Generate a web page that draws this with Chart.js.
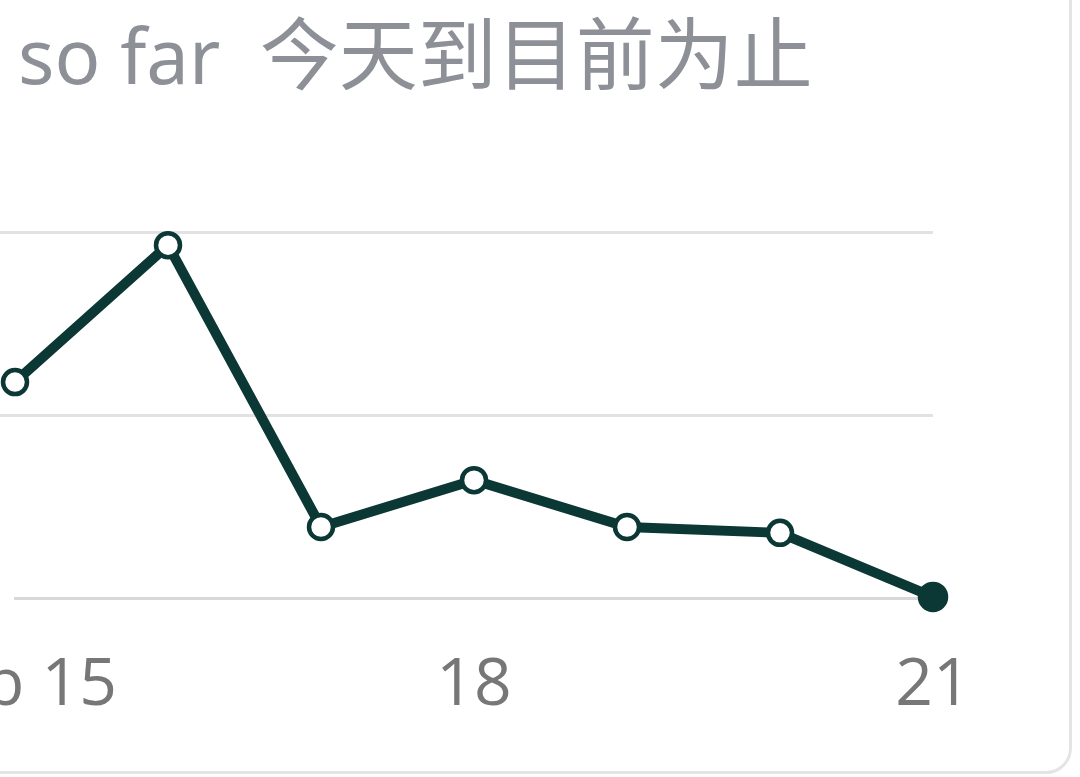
<!DOCTYPE html>
<html>
<head>
<meta charset="utf-8">
<script src="https://cdn.jsdelivr.net/npm/chart.js@4.4.1/dist/chart.umd.min.js"></script>
<style>
  html, body { margin: 0; padding: 0; background: #ffffff; }
  body { width: 1080px; height: 777px; overflow: hidden; position: relative; }
  #card {
    position: absolute; left: -100px; top: -100px; width: 1172px; height: 874px;
    border: 3px solid #e4e4e4; border-radius: 26px; background: #ffffff; box-sizing: border-box;
  }
  #title {
    position: absolute; left: 18px; top: 16px; white-space: pre;
    font-family: "Noto Sans", "Noto Sans CJK SC", sans-serif; font-size: 76px; line-height: 76px;
    color: #8d9197;
  }
  #title .zh { font-size: 79px; }
  #wrap { position: absolute; left: -200px; top: 0; width: 1280px; height: 777px; }
</style>
</head>
<body>
<div id="card"></div>
<div id="title">so far  <span class="zh">今天到目前为止</span></div>
<div id="wrap"><canvas id="c" width="1280" height="777"></canvas></div>
<script>
const categories = ['Feb 15', 'Feb 16', 'Feb 17', 'Feb 18', 'Feb 19', 'Feb 20', 'Feb 21'];
const tickLabels = ['Feb 15', '', '', '18', '', '', '21'];
const values = [59, 96.4, 19.4, 32.2, 19.4, 17.8, 0.3];
const yTicks = [0, 50, 100];

const lineColor = '#0b3734';
const lastIdx = values.length - 1;

new Chart(document.getElementById('c'), {
  type: 'line',
  data: {
    labels: categories,
    datasets: [{
      data: values,
      borderColor: lineColor,
      borderWidth: 10,
      tension: 0,
      clip: false,
      pointRadius: (ctx) => ctx.dataIndex === lastIdx ? 13 : 12,
      pointBorderWidth: 4.5,
      pointBorderColor: lineColor,
      pointBackgroundColor: (ctx) => ctx.dataIndex === lastIdx ? lineColor : '#ffffff'
    }]
  },
  options: {
    responsive: false,
    animation: false,
    devicePixelRatio: 1,
    layout: { autoPadding: false, padding: { left: 200, right: 147, top: 232, bottom: 3 } },
    plugins: { legend: { display: false }, tooltip: { enabled: false }, title: { display: false } },
    scales: {
      x: {
        grid: { display: false, drawTicks: false },
        border: { display: true, color: '#d8d8d8', width: 3 },
        ticks: {
          autoSkip: false, maxRotation: 0, minRotation: 0,
          padding: 55,
          color: '#777777',
          font: { family: "'Open Sans', 'Noto Sans', sans-serif", size: 66, lineHeight: 1 },
          callback: (v, i) => tickLabels[i]
        }
      },
      y: {
        min: yTicks[0], max: yTicks[yTicks.length - 1],
        afterBuildTicks: (axis) => { axis.ticks = yTicks.map(v => ({ value: v })); },
        border: { display: false },
        grid: {
          drawTicks: true, tickLength: 15, lineWidth: 3,
          color: (ctx) => (ctx.tick && ctx.tick.value === 0) ? 'rgba(0,0,0,0)' : '#e2e2e2'
        },
        ticks: { display: false }
      }
    }
  }
});
</script>
</body>
</html>
